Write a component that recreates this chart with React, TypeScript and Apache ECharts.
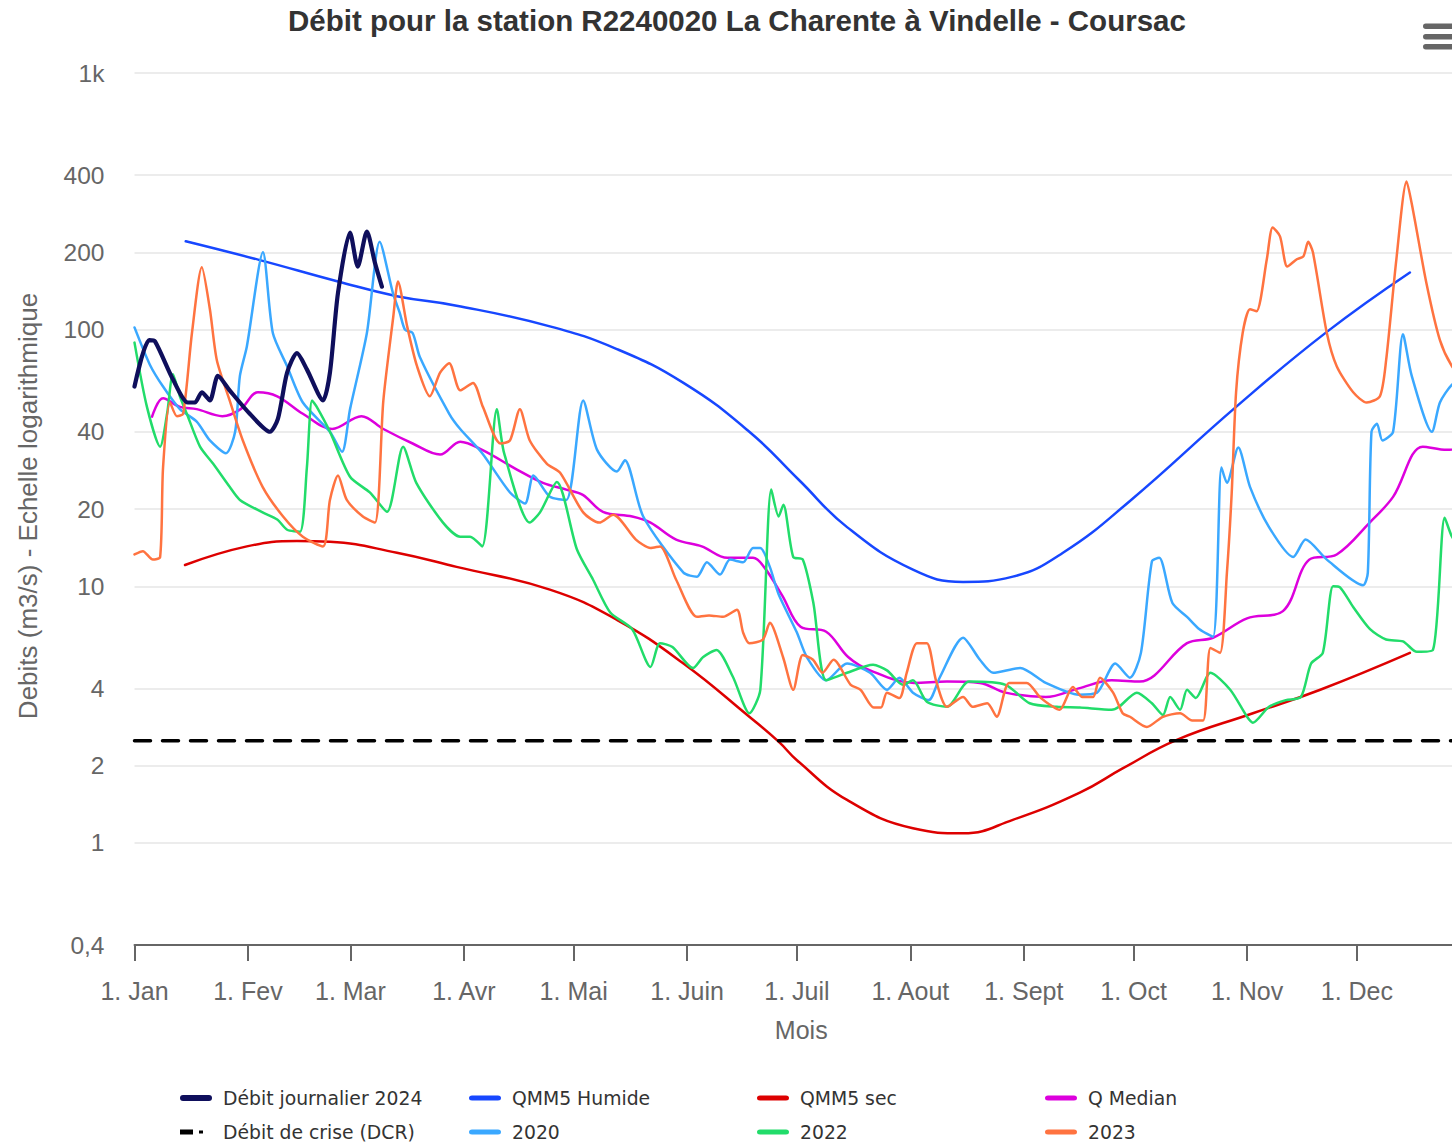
import React, { useEffect, useRef } from "react";
import * as echarts from "echarts";

const TITLE = "Débit pour la station R2240020 La Charente à Vindelle - Coursac";
const monthStarts = [0, 31, 59, 90, 120, 151, 181, 212, 243, 273, 304, 334];
const monthLabels = ["1. Jan", "1. Fev", "1. Mar", "1. Avr", "1. Mai", "1. Juin", "1. Juil", "1. Aout", "1. Sept", "1. Oct", "1. Nov", "1. Dec"];
const yTicks = [0.4, 1, 2, 4, 10, 20, 40, 100, 200, 400, 1000];
const yTickLabels = ["0,4", "1", "2", "4", "10", "20", "40", "100", "200", "400", "1k"];

// [day of year (0 = 1 Jan), flow m3/s]
const flow2024 = [[0,60],[4,91],[5.6,90],[10.5,64],[14.6,52],[16.5,52],[18.4,57],[20.6,53],[22.8,66],[26,58],[31.5,47],[37,40],[39.2,45],[41.7,68],[44.4,81],[47.1,70],[51.5,53],[53.4,68],[55.6,139],[58.9,239],[61,176],[63.5,241],[65.7,182],[67.6,147]];
const qmm5Humide = [[14,221],[34,187],[55.6,154],[71.7,135],[88,124],[113.5,103],[131.8,84],[150,62],[168,40],[181.5,26],[194.7,17],[212.7,11.6],[226.4,10.4],[240,10.9],[253.7,13.5],[272,21.5],[301,50],[325.8,98],[348.5,167]];
const qmm5Sec = [[13.8,12.1],[30.7,14.3],[44.4,15.0],[53.4,14.9],[71.7,13.5],[88,11.9],[113.5,9.7],[131.8,7.4],[150,5.0],[168,3.1],[176,2.48],[181,2.1],[194.7,1.47],[212.7,1.14],[226.4,1.09],[240,1.23],[258.3,1.57],[270,1.95],[284.8,2.52],[305.6,3.2],[324,3.95],[348.5,5.5]];
const qMedian = [[4.8,45.8],[7.8,54],[12.4,50],[17,49],[24,46],[29,49],[33.7,57],[39,55],[46,47],[54,41],[62,46],[68,41],[76,36],[83.5,32.6],[89,36.6],[95,34],[104.5,28.5],[111.6,25.3],[118,23.8],[122.5,22.7],[128,19.5],[136,18.7],[141,17.7],[148,15.2],[155,14.3],[162,12.9],[169,12.9],[172,11.9],[177,9.2],[182,6.95],[189,6.65],[195,5.3],[201,4.7],[213,4.2],[222,4.25],[231,4.2],[238,3.85],[249,3.7],[258,4.0],[267,4.3],[274.7,4.25],[287.6,6.0],[294.7,6.3],[304,7.5],[313.8,8.0],[321,12.7],[328.5,13.3],[337.5,17.7],[343.9,22.3],[352,35],[358.6,34],[364,35]];
const dcr = [[0,2.5],[364,2.5]];
const y2020 = [[0,102],[4.2,73],[7.8,60],[12.4,49],[17,43.8],[20.6,37],[25,33],[27.5,40],[28.8,66],[30.7,86],[35.1,200],[37.8,97],[41.7,72],[46,52],[53.4,40],[56.7,33.4],[58.9,49],[63.5,97],[67,220],[70.6,139],[72.5,116],[73.9,100],[76,97],[78,78],[86,47],[89,41],[95,33],[102.6,23.2],[106.7,21],[109,27],[113.5,22.3],[118,21.7],[122.6,53],[126.4,34],[131.8,28],[134,31],[139,18.7],[150,11.3],[153.7,10.9],[156.4,12.4],[160,11.1],[162.7,12.7],[166.3,12.4],[169,14.1],[171,14.1],[173.6,11.9],[176,9.3],[181,6.6],[183.7,5.3],[189,4.3],[194.7,5.0],[201,4.6],[205.6,3.95],[209,4.4],[212.7,3.85],[217,3.6],[220,4.4],[226.4,6.3],[231,5.17],[234.6,4.6],[242,4.8],[249,4.2],[258,3.78],[263,3.85],[268,5.0],[272,4.4],[275,5.5],[278,12.5],[280,12.9],[283.6,8.6],[287.6,7.6],[291,6.8],[294.7,6.35],[297,29],[298.5,25.3],[301.6,34.7],[304.8,24.4],[310,17],[316.6,13],[320,15.2],[325.8,12.7],[335.7,10.1],[337,11.3],[338,40],[339.5,43],[341,37],[343.9,40],[346.6,96],[349,66],[354.5,40],[356.7,52],[360,61],[364,66]];
const y2022 = [[0,89],[3.4,50],[7,35],[8.9,47],[10.5,67],[12.4,55],[14.3,47],[17.9,35],[21.5,30],[26,24.4],[28.8,21.7],[35,19.4],[39,18.2],[41.7,16.6],[45.2,16.3],[47.1,29],[48.5,53],[49.8,50],[53.4,40],[58.9,26.7],[64.3,23.2],[69,19.5],[73.4,35],[77,25.3],[84.3,17.7],[89,15.6],[91.7,15.6],[95,14.3],[99,49],[101,33],[108,17.7],[110.8,19.4],[115.4,25.5],[120.9,13.9],[125.3,10.6],[130,7.9],[136,6.8],[141,4.85],[143.6,6.0],[147,5.8],[152.6,4.8],[155.4,5.3],[159,5.65],[163.5,4.44],[168,3.2],[171,3.95],[174,23.8],[176,18.7],[177.3,20.8],[180,13],[182.6,12.7],[185.5,8.6],[189,4.3],[194.7,4.6],[201.8,4.94],[205.6,4.7],[210,4.13],[212.7,4.3],[216.5,3.55],[222,3.39],[228,4.25],[238,4.13],[244.6,3.5],[252,3.39],[258.3,3.37],[267,3.3],[269,3.39],[273.9,3.85],[278,3.5],[281,3.15],[283,3.7],[285.7,3.3],[287.6,3.95],[290,3.67],[294,4.6],[299.4,3.95],[304,3.1],[305.6,2.94],[310,3.39],[314.6,3.6],[318.7,3.7],[321.5,5.0],[324.7,5.5],[327.5,10],[329.4,9.9],[333,8.3],[337.6,6.8],[342,6.2],[346.6,6.1],[350.4,5.55],[354.8,5.65],[358,18.5],[360,15.6],[364,13]];
const y2023 = [[0,13.3],[2.3,13.7],[5,12.7],[7,13],[7.8,29],[9.7,52],[11.6,46],[13.3,47],[15.7,97],[18.4,175],[20.6,120],[22.5,76],[26,53],[29.6,37],[35,24.4],[40.6,18.7],[46,15.6],[51.5,14.3],[53.4,21.7],[55.6,27],[58,21.7],[62.4,18.7],[65.7,17.7],[68,53],[70.7,112],[72,154],[74.5,103],[77.2,72],[80.7,55],[83.5,68],[86,74],[89,58],[92.5,62],[95.2,50],[100,36],[102.6,37],[105.3,49],[108,37],[112.7,30],[116.3,27.7],[122.6,19.4],[127,17.7],[130.8,19],[137,15.2],[141,14.1],[143.6,14.3],[148,10.6],[153.7,7.6],[157,7.7],[160.8,7.6],[164.6,8.1],[166.3,6.6],[168,6.0],[171.7,6.2],[173.6,7.2],[177.2,5.3],[180,3.95],[182.6,5.4],[185.4,5.17],[188,4.6],[191,5.17],[195.7,4.13],[198.4,3.95],[202,3.37],[204,3.37],[205.6,3.85],[209,3.67],[211,4.6],[213.8,6.0],[216.5,6.0],[219,4.3],[222,3.39],[226.4,3.7],[229,3.39],[233,3.5],[235.6,3.1],[239,4.2],[243.8,4.2],[247.4,3.7],[251,3.39],[252.8,3.3],[256.4,4.05],[259,3.7],[261.9,3.7],[263.8,4.4],[267.4,3.85],[270,3.2],[272,3.1],[276.6,2.83],[281,3.1],[285.7,3.2],[289,3.0],[292,3.0],[294,5.75],[296.6,5.5],[298.5,11.3],[299.8,23],[301,57],[302.8,97],[304.8,120],[306.6,118],[309.4,188],[311,250],[313,231],[315,176],[317.6,188],[319.4,193],[320.7,220],[322,200],[325.8,97],[328.5,72],[333,57],[336.7,52],[340.3,55],[342,76],[344.8,188],[347.6,378],[349.3,294],[353,152],[356.7,91],[360,72],[364,62]];

const seriesDefs = [
  { name: "Débit journalier 2024", data: flow2024, color: "#0f0f5c", width: 4.2, smooth: 0.25, z: 9 },
  { name: "QMM5 Humide", data: qmm5Humide, color: "#1747ff", width: 2.5, smooth: 0.45, z: 3 },
  { name: "QMM5 sec", data: qmm5Sec, color: "#dd0000", width: 2.5, smooth: 0.45, z: 3 },
  { name: "Q Median", data: qMedian, color: "#dd00dd", width: 2.5, smooth: 0.35, z: 4 },
  { name: "Débit de crise (DCR)", data: dcr, color: "#000000", width: 3.5, smooth: false, z: 4, dashed: true },
  { name: "2020", data: y2020, color: "#3aa8ff", width: 2.5, smooth: 0.25, z: 5 },
  { name: "2022", data: y2022, color: "#22dc6a", width: 2.5, smooth: 0.25, z: 6 },
  { name: "2023", data: y2023, color: "#ff7340", width: 2.5, smooth: 0.25, z: 7 },
];

const CAPSULE = "path://M3,0 L29,0 A3,3 0 0 1 29,6 L3,6 A3,3 0 0 1 3,0 Z";
const DASHDOT = "path://M0,0 L13,0 L13,5 L0,5 Z M19,1 L23,1 L23,4 L19,4 Z";
const legendCols = [180, 469, 757, 1045];
const legendRows = [1088, 1122];

const LABEL_FONT = "'Liberation Sans', Arial, sans-serif";

export default function App() {
  const ref = useRef<HTMLDivElement>(null);
  useEffect(() => {
    if (!ref.current) return;
    const chart = echarts.init(ref.current, null, { renderer: "svg" });
    const legends = seriesDefs.map((s, i) => {
      const col = i % 4;
      const row = Math.floor(i / 4);
      const isDash = !!(s as any).dashed;
      return {
        left: legendCols[col],
        top: legendRows[row],
        orient: "horizontal",
        padding: 0,
        itemWidth: isDash ? 23 : 32,
        itemHeight: isDash ? 5 : i === 0 ? 6 : 5,
        symbolKeepAspect: false,
        selectedMode: false,
        data: [{ name: s.name, icon: isDash ? DASHDOT : CAPSULE }],
        textStyle: {
          fontFamily: "'DejaVu Sans', Verdana, sans-serif",
          fontSize: 18.8,
          color: "#333333",
          lineHeight: 20,
          padding: [0, 0, 0, isDash ? 15 : 6],
        },
      };
    });
    const option: any = {
      animation: false,
      backgroundColor: "#ffffff",
      title: {
        text: TITLE,
        left: 288,
        top: 5,
        padding: 0,
        textStyle: { fontFamily: LABEL_FONT, fontWeight: "bold", fontSize: 29.5, color: "#333333" },
      },
      legend: legends,
      grid: { left: 134.5, right: 0, top: 73, bottom: 197, containLabel: false },
      xAxis: {
        type: "value",
        min: 0,
        max: 360,
        axisLine: { show: true, onZero: false, lineStyle: { color: "#666666", width: 2 } },
        axisTick: { show: true, customValues: monthStarts, length: 16, lineStyle: { color: "#666666", width: 2 } },
        axisLabel: {
          customValues: monthStarts,
          formatter: (v: number) => monthLabels[monthStarts.indexOf(Math.round(v))] ?? "",
          color: "#666666",
          fontFamily: LABEL_FONT,
          fontSize: 25,
          margin: 33,
        },
        splitLine: { show: false },
        name: "Mois",
        nameLocation: "middle",
        nameGap: 72,
        nameTextStyle: { color: "#666666", fontFamily: LABEL_FONT, fontSize: 25, padding: [0, 0, 0, 16] },
      },
      yAxis: {
        type: "log",
        logBase: 10,
        min: 0.4,
        max: 1000,
        axisLine: { show: false },
        axisTick: { show: false, customValues: yTicks },
        axisLabel: {
          customValues: yTicks,
          formatter: (v: number) => {
            const idx = yTicks.findIndex((t) => Math.abs(v - t) / t < 1e-6);
            return idx >= 0 ? yTickLabels[idx] : "";
          },
          color: "#666666",
          fontFamily: LABEL_FONT,
          fontSize: 24.5,
          margin: 30,
        },
        splitLine: { show: true, lineStyle: { color: "#e6e6e6", width: 1.5 } },
        name: "Debits (m3/s) - Echelle logarithmique",
        nameLocation: "middle",
        nameGap: 94,
        nameTextStyle: { color: "#666666", fontFamily: LABEL_FONT, fontSize: 26, padding: [0, 0, 0, 6] },
      },
      graphic: [
        { type: "rect", shape: { x: 1423, y: 23.5, width: 40, height: 5.5, r: 2.75 }, style: { fill: "#666666" } },
        { type: "rect", shape: { x: 1423, y: 34, width: 40, height: 5.5, r: 2.75 }, style: { fill: "#666666" } },
        { type: "rect", shape: { x: 1423, y: 44, width: 40, height: 5.5, r: 2.75 }, style: { fill: "#666666" } },
      ],
      series: seriesDefs.map((s) => ({
        name: s.name,
        type: "line",
        data: s.data,
        color: s.color,
        showSymbol: false,
        symbol: "none",
        smooth: s.smooth,
        z: s.z,
        itemStyle: { color: s.color },
        lineStyle: {
          color: s.color,
          width: s.width,
          type: (s as any).dashed ? [16, 12] : "solid",
          cap: "round",
          join: "round",
        },
        emphasis: { disabled: true },
      })),
    };
    chart.setOption(option);
    return () => chart.dispose();
  }, []);
  return (
    <div
      ref={ref}
      style={{ position: "absolute", left: 0, top: 0, width: 1452, height: 1142, background: "#fff" }}
    />
  );
}
